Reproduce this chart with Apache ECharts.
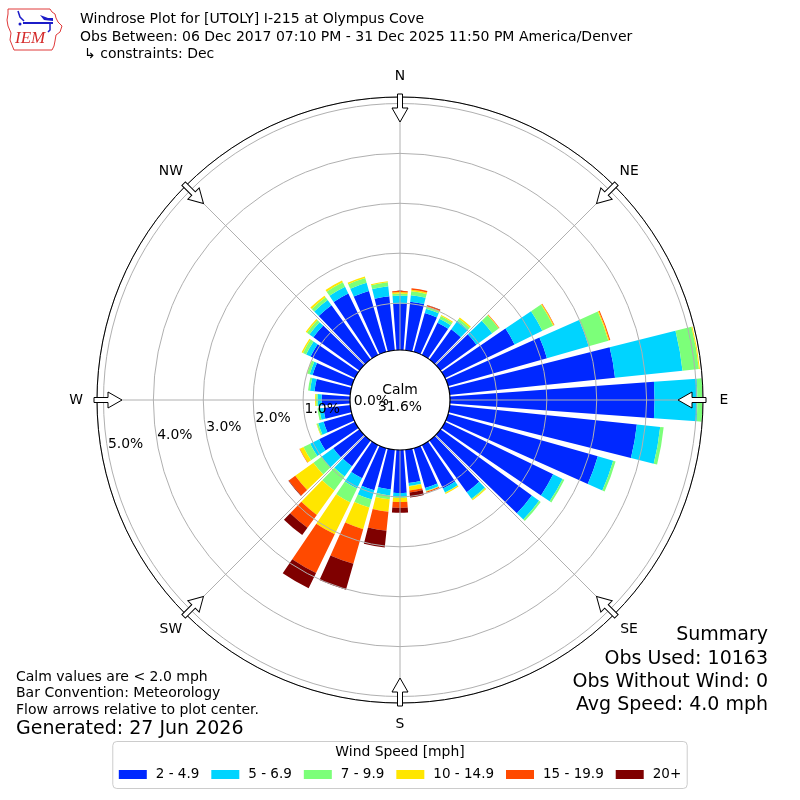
<!DOCTYPE html>
<html><head><meta charset="utf-8">
<script src="https://cdn.jsdelivr.net/npm/echarts/dist/echarts.min.js"></script>
<style>html,body{margin:0;padding:0;background:#fff}#c{width:800px;height:800px}</style>
</head><body><div id="c"></div>
<script>
// ---- data ----
const directions = ['0','10','20','30','40','50','60','70','80','90','100','110','120','130','140','150','160','170',
  '180','190','200','210','220','230','240','250','260','270','280','290','300','310','320','330','340','350'];
const speedBins = ['2 - 4.9', '5 - 6.9', '7 - 9.9', '10 - 14.9', '15 - 19.9', '20+'];
const binColors = ['#0028ff', '#00d4ff', '#7cff79', '#ffe600', '#ff4a00', '#7f0000'];
// percent of observations per direction (0,10,...,350 deg)
const spd_2_5   = [0.99,1.04,0.87,0.78,0.81,0.95,1.61,2.12,3.39,4.16,3.83,3.18,2.47,2.32,1.34,1.03,0.89,0.73,
                   0.92,0.86,0.94,0.80,0.70,0.71,0.86,0.65,0.60,0.63,0.78,0.88,1.05,1.20,1.40,1.43,1.33,1.15];
const spd_5_7   = [0.16,0.13,0.09,0.09,0.21,0.39,0.62,0.87,1.36,0.86,0.47,0.32,0.21,0.18,0.16,0.09,0.06,0.06,
                   0.08,0.12,0.19,0.23,0.25,0.29,0.20,0.11,0.08,0.08,0.09,0.06,0.10,0.10,0.13,0.15,0.17,0.20];
const spd_7_10  = [0.04,0.08,0.04,0.06,0.05,0.16,0.24,0.41,0.33,0.10,0.07,0.05,0.04,0.04,0.02,0.01,0.01,0.01,
                   0.02,0.08,0.17,0.31,0.35,0.20,0.15,0.03,0.04,0.03,0.04,0.05,0.07,0.06,0.07,0.10,0.10,0.08];
const spd_10_15 = [0.03,0.03,0.01,0.02,0.03,0.01,0.02,0.02,0.02,0,0,0,0,0,0.02,0.02,0.01,0.08,
                   0.08,0.25,0.45,0.71,0.60,0.45,0.08,0.01,0,0.02,0,0.01,0.03,0.03,0.04,0.04,0.03,0.02];
const spd_15_20 = [0.025,0.03,0.02,0,0,0.01,0.01,0.02,0,0,0,0,0,0,0,0,0.02,0.04,
                   0.12,0.38,0.72,0.86,0.32,0.16,0.01,0,0,0,0,0,0,0,0,0,0,0];
const spd_20p   = [0,0,0.01,0,0,0,0,0,0,0,0,0,0,0,0,0,0,0.10,
                   0.10,0.34,0.54,0.34,0.18,0.01,0,0,0,0,0,0,0,0,0,0,0,0];
const compassLabels = ['N', 'NE', 'E', 'SE', 'S', 'SW', 'W', 'NW'];
const radiusMax = 5.13;
const calmPct = '31.6%';

const titleLines = ['Windrose Plot for [UTOLY] I-215 at Olympus Cove',
  'Obs Between: 06 Dec 2017 07:10 PM - 31 Dec 2025 11:50 PM America/Denver',
  '\u21b3 constraints: Dec'];
const noteLines = ['Calm values are < 2.0 mph', 'Bar Convention: Meteorology', 'Flow arrows relative to plot center.'];
const generated = 'Generated: 27 Jun 2026';
const summaryLines = ['Summary', 'Obs Used: 10163', 'Obs Without Wind: 0', 'Avg Speed: 4.0 mph'];

// ---- chart ----
const FONT = 'DejaVu Sans';
const chart = echarts.init(document.getElementById('c'));
const W = chart.getWidth(), H = chart.getHeight();
const cx = W / 2, cy = H / 2;
const R0 = 47, R1 = 303;

const binData = [spd_2_5, spd_5_7, spd_7_10, spd_10_15, spd_15_20, spd_20p];
const series = speedBins.map((name, i) => ({
  name, type: 'bar', coordinateSystem: 'polar', polarIndex: 0, stack: 'wind',
  barCategoryGap: '18%', data: binData[i], itemStyle: { color: binColors[i] },
  emphasis: { disabled: true }, z: 2
}));

const graphics = [];
// hole
graphics.push({ type: 'circle', shape: { cx, cy, r: 50 }, style: { fill: '#fff', stroke: '#000', lineWidth: 1.2 }, z: 10 });
graphics.push({ type: 'text', x: cx, y: cy - 1, z: 20,
  style: { text: 'Calm\n' + calmPct, align: 'center', verticalAlign: 'middle', fontSize: 13.9, lineHeight: 17, fill: '#000', fontFamily: FONT } });
// flow arrows
for (let k = 0; k < 8; k++) {
  graphics.push({ type: 'polygon', x: cx, y: cy, rotation: -k * 45 * Math.PI / 180, z: 12,
    shape: { points: [[0, -278], [8, -292], [2.5, -292], [2.5, -306], [-2.5, -306], [-2.5, -292], [-8, -292]] },
    style: { fill: '#fff', stroke: '#000', lineWidth: 1 } });
}
// header
titleLines.forEach((t, i) => graphics.push({ type: 'text', x: i === 2 ? 84 : 80, y: [19, 37, 54][i],
  style: { text: t, fontSize: 14, fill: '#000', fontFamily: FONT, verticalAlign: 'middle' } }));
// notes
noteLines.forEach((t, i) => graphics.push({ type: 'text', x: 16, y: [677, 693.5, 710][i],
  style: { text: t, fontSize: 14, fill: '#000', fontFamily: FONT, verticalAlign: 'middle' } }));
graphics.push({ type: 'text', x: 16, y: 729, style: { text: generated, fontSize: 19, fill: '#000', fontFamily: FONT, verticalAlign: 'middle' } });
summaryLines.forEach((t, i) => graphics.push({ type: 'text', x: 768, y: [635, 659, 682, 705][i],
  style: { text: t, fontSize: 19, fill: '#000', fontFamily: FONT, align: 'right', verticalAlign: 'middle' } }));
// legend title
graphics.push({ type: 'text', x: 400, y: 752.5, z: 30, style: { text: 'Wind Speed [mph]', fontSize: 13.9, fill: '#000', fontFamily: FONT, align: 'center', verticalAlign: 'middle' } });
// IEM logo (simplified)
graphics.push({ type: 'polyline', shape: { points: [[8,9],[50,9],[52,12],[55,14],[56,18],[58,22],[62,26],[60,32],[56,35],[55,41],[54,46],[52,50],[14,50],[12,45],[10,40],[11,33],[8,26],[7,20],[8,14],[8,9]] },
  style: { stroke: '#e03a3a', lineWidth: 1, fill: null } });
graphics.push({ type: 'text', x: 15, y: 39, style: { text: 'IEM', fontSize: 17, fontStyle: 'italic', fontFamily: 'Liberation Serif', fill: '#d42a2a', verticalAlign: 'middle' } });
graphics.push({ type: 'polyline', shape: { points: [[23,23],[53,23]] }, style: { stroke: '#1c1cc8', lineWidth: 2 } });
graphics.push({ type: 'polyline', shape: { points: [[18,11],[20,17],[24,21]] }, style: { stroke: '#1c1cc8', lineWidth: 1.5 } });
graphics.push({ type: 'polygon', shape: { points: [[40,15],[48,18],[53,18],[53,21],[44,20]] }, style: { fill: '#1c1cc8' } });
graphics.push({ type: 'polyline', shape: { points: [[50,24],[50,30],[48,32]] }, style: { stroke: '#1c1cc8', lineWidth: 1.5 } });
graphics.push({ type: 'circle', shape: { cx: 20, cy: 24, r: 1.5 }, style: { fill: '#1c1cc8' } });

const option = {
  animation: false,
  backgroundColor: '#fff',
  textStyle: { fontFamily: FONT },
  polar: [
    { center: [cx, cy], radius: [R0, R1] },
    { center: [cx, cy], radius: [R0, R1] },
    { center: [cx, cy], radius: [R0, R1] }
  ],
  angleAxis: [
    { polarIndex: 0, type: 'category', data: directions, startAngle: 95, clockwise: true, show: false },
    { polarIndex: 1, type: 'value', min: 0, max: 360, interval: 45, startAngle: 90, clockwise: true, z: 3,
      axisLine: { show: true, lineStyle: { color: '#000', width: 1 } },
      axisTick: { show: false },
      splitLine: { show: true, lineStyle: { color: '#b0b0b0', width: 1 } },
      axisLabel: { show: false } },
    { polarIndex: 2, type: 'value', min: 0, max: 360, startAngle: 190, show: false }
  ],
  radiusAxis: [
    { polarIndex: 0, type: 'value', min: 0, max: radiusMax, show: false },
    { polarIndex: 1, type: 'value', min: 0, max: radiusMax, interval: 1, z: 3,
      axisLine: { show: false }, axisTick: { show: false }, axisLabel: { show: false },
      splitLine: { show: true, lineStyle: { color: '#b0b0b0', width: 1 } } },
    { polarIndex: 2, type: 'value', min: 0, max: radiusMax, interval: 1, z: 20,
      axisLine: { show: false }, axisTick: { show: false }, splitLine: { show: false },
      axisLabel: { show: true, margin: 0, align: 'left', verticalAlign: 'bottom', fontSize: 13.9, color: '#000', fontFamily: FONT,
        showMaxLabel: false,
        formatter: v => Math.abs(v - Math.round(v)) < 1e-6 ? v.toFixed(1) + '%' : '' } }
  ],
  legend: {
    data: speedBins, left: 'center', top: 741.5, orient: 'horizontal',
    icon: 'rect', itemWidth: 28, itemHeight: 9, itemGap: 12,
    padding: [26, 6, 7, 6], borderColor: '#cccccc', borderWidth: 1, borderRadius: 4,
    backgroundColor: '#fff',
    textStyle: { fontSize: 13.5, color: '#000', fontFamily: FONT, padding: [0, 0, 0, 4] },
    selectedMode: false
  },
  tooltip: { show: false },
  series,
  graphic: { elements: graphics }
};
chart.setOption(option);

// compass labels placed just outside the rim, through the polar coordinate system
const pxPerUnit = (R1 - R0) / radiusMax;
const labelRadiusValue = (324 - R0) / pxPerUnit;
compassLabels.forEach((lab, k) => {
  let p = null;
  try { p = chart.convertToPixel({ polarIndex: 1 }, [labelRadiusValue, k * 45]); } catch (e) { p = null; }
  if (!p || !isFinite(p[0]) || !isFinite(p[1])) {
    const a = k * 45 * Math.PI / 180;
    p = [cx + 324 * Math.sin(a), cy - 324 * Math.cos(a)];
  }
  graphics.push({ type: 'text', x: p[0], y: p[1], z: 20,
    style: { text: lab, fontSize: 13.9, fill: '#000', fontFamily: FONT, align: 'center', verticalAlign: 'middle' } });
});
chart.setOption({ graphic: { elements: graphics } });
</script></body></html>
